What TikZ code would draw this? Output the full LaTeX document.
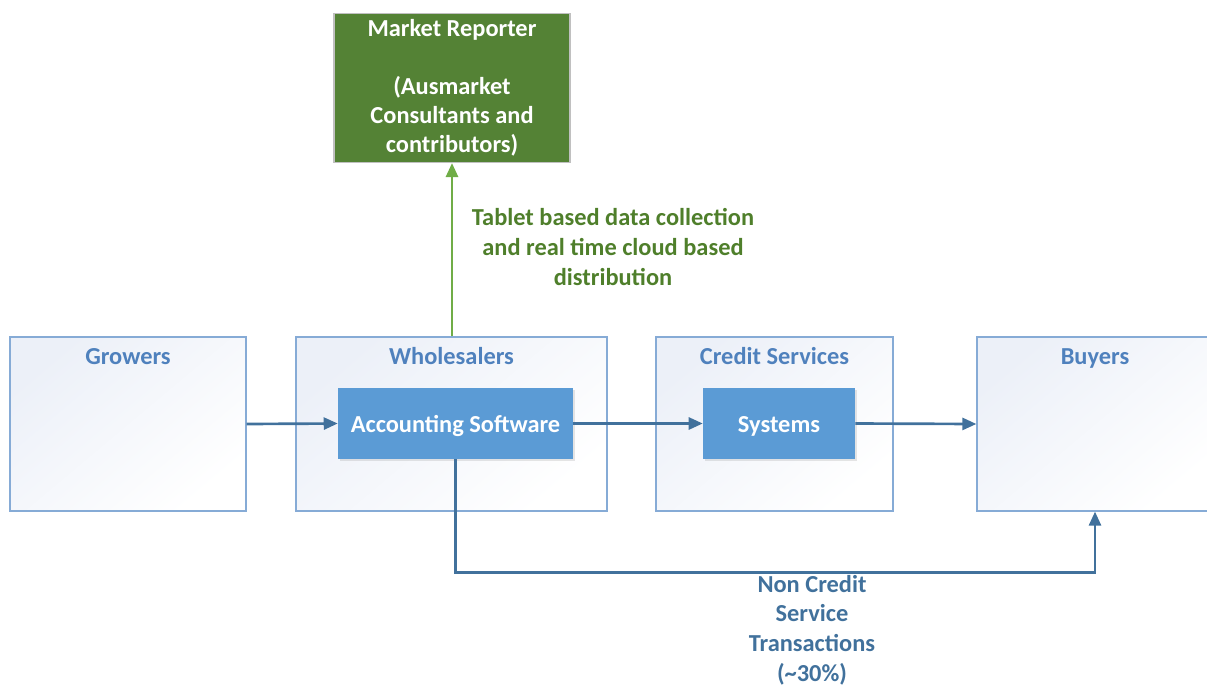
\documentclass[tikz,border=0pt]{standalone}
\usepackage{fontspec}
\setmainfont{Carlito}
\usetikzlibrary{arrows.meta,shadows,calc}

\definecolor{outerline}{HTML}{86ABD6}
\definecolor{outertint}{HTML}{ECF0F8}
\definecolor{titleblue}{HTML}{4F81BD}
\definecolor{accent}{HTML}{5B9BD5}
\definecolor{flow}{HTML}{41719C}
\definecolor{mrgreen}{HTML}{548235}
\definecolor{mrline}{HTML}{C0C0C0}
\definecolor{feedgreen}{HTML}{70AD47}
\definecolor{feedtext}{HTML}{4F7F2B}

% lower a box label a little without changing the box size
\newcommand{\lowertext}[1]{\raisebox{-2pt}[\height][\depth]{#1}}

\begin{document}
\begin{tikzpicture}[x=0.75pt,y=-0.75pt,
  txt/.style={font=\bfseries\fontsize{18.3}{21.75}\selectfont, align=center, inner sep=0pt},
  outer/.style 2 args={draw=outerline, line width=0.9pt,
    top color=outertint, middle color=white, bottom color=white, shading angle=40,
    minimum width=#1*0.75pt, minimum height=#2*0.75pt, inner sep=0pt},
  title/.style={txt, text=titleblue, text height=0.7em, text depth=0.2em},
  inbox/.style 2 args={fill=accent, txt, text=white,
    drop shadow={opacity=0.2, shadow xshift=1.2pt, shadow yshift=-1.2pt},
    minimum width=#1*0.75pt, minimum height=#2*0.75pt},
  conn/.style={draw=flow, line width=2pt, -{Triangle[length=10.5pt,width=9pt]}},
  gconn/.style={draw=feedgreen, line width=2pt, -{Triangle[length=10.5pt,width=9pt]}},
]
\path[use as bounding box] (0,0) rectangle (1207,686);
\clip (0,0) rectangle (1207,686);

% outer stage boxes
\node[outer={236}{174}] (grow)  at (128,424)    {};
\node[outer={311}{174}] (whole) at (451.5,424)  {};
\node[outer={237}{174}] (cred)  at (774.5,424)  {};
\node[outer={236}{174}] (buy)   at (1095,424)   {};

\node[title] (growt)  at ($(grow.north)+(0,25)$)  {Growers};
\node[title] (wholet) at ($(whole.north)+(0,25)$) {Wholesalers};
\node[title] (credt)  at ($(cred.north)+(0,25)$)  {Credit Services};
\node[title] (buyt)   at ($(buy.north)+(0,25)$)   {Buyers};

% inner system boxes
\node[inbox={235}{71}] (acct) at (455.5,423.5) {\lowertext{Accounting Software}};
\node[inbox={152}{71}] (sys)  at (779,423.5)   {\lowertext{Systems}};

% market reporter
\node[fill=mrgreen, draw=mrline, line width=0.8pt, txt, text=white,
      minimum width=236*0.75pt, minimum height=149*0.75pt] (mr) at (452,88)
  {Market Reporter\\ ~\\ (Ausmarket\\ Consultants and\\ contributors)};

% flows
\draw[conn] (grow.east) -- (acct.west);
\draw[conn] (acct.east) -- (sys.west);
\draw[conn] (sys.east) -- (buy.west);
\draw[conn] (acct.south) |- ($(buy.south)+(0,61)$) -- (buy.south);
\draw[gconn] (whole.north -| mr.south) -- (mr.south);

% labels
\node[txt, text=feedtext, font=\bfseries\fontsize{18.3}{22.5}\selectfont] (feedlbl) at (613,247)
  {Tablet based data collection\\ and real time cloud based\\ distribution};
\node[txt, text=flow, font=\bfseries\fontsize{18.3}{22.2}\selectfont] (noncr) at (812,630)
  {Non Credit\\ Service\\ Transactions\\ (\textasciitilde30\%)};
\end{tikzpicture}
\end{document}
